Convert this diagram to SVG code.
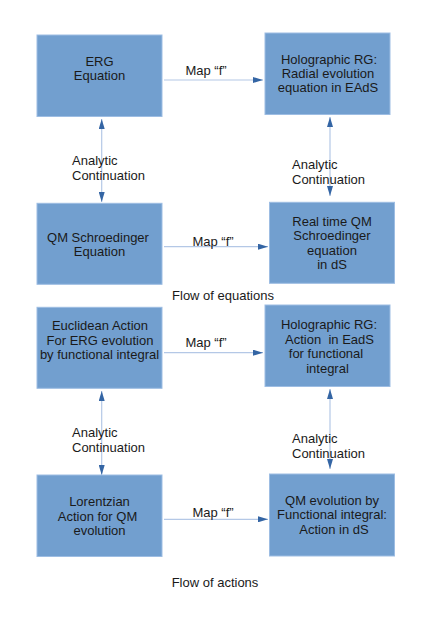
<svg xmlns="http://www.w3.org/2000/svg" width="436" height="617" viewBox="0 0 436 617">
<style>
.box{fill:#729fcf;stroke:#9dbde3;stroke-width:1}
.t{font-family:"Liberation Sans",Arial,sans-serif;font-size:13px;fill:#1a1a1a}
.c{text-anchor:middle}
.ln{stroke:#b4c8e6;stroke-width:1.2;fill:none}
</style>
<defs>
<marker id="ah" viewBox="0 0 10 6" refX="10" refY="3" markerWidth="10" markerHeight="6" markerUnits="userSpaceOnUse" orient="auto-start-reverse">
<path d="M0,0 L10,3 L0,6 Z" fill="#3465a4"/>
</marker>
</defs>
<rect width="436" height="617" fill="#fff"/>
<g id="connectors">
<line class="ln" x1="164" y1="80" x2="263" y2="80" marker-end="url(#ah)"/>
<line class="ln" x1="101.7" y1="119" x2="101.7" y2="202" marker-start="url(#ah)" marker-end="url(#ah)"/>
<line class="ln" x1="330" y1="117" x2="330" y2="196" marker-start="url(#ah)" marker-end="url(#ah)"/>
<line class="ln" x1="164" y1="246.7" x2="268" y2="246.7" marker-end="url(#ah)"/>
<line class="ln" x1="164" y1="352.7" x2="263" y2="352.7" marker-end="url(#ah)"/>
<line class="ln" x1="101.7" y1="391" x2="101.7" y2="475" marker-start="url(#ah)" marker-end="url(#ah)"/>
<line class="ln" x1="330" y1="389" x2="330" y2="469" marker-start="url(#ah)" marker-end="url(#ah)"/>
<line class="ln" x1="164" y1="519.3" x2="268" y2="519.3" marker-end="url(#ah)"/>
<text class="t c" x="206" y="75">Map “f”</text>
<text class="t" x="72" y="165">Analytic</text>
<text class="t" x="72" y="180">Continuation</text>
<text class="t" x="292" y="169">Analytic</text>
<text class="t" x="292" y="184">Continuation</text>
<text class="t c" x="213" y="245.5">Map “f”</text>
<text class="t c" x="206" y="346.5">Map “f”</text>
<text class="t" x="72" y="437">Analytic</text>
<text class="t" x="72" y="452">Continuation</text>
<text class="t" x="292" y="443">Analytic</text>
<text class="t" x="292" y="458">Continuation</text>
<text class="t c" x="213" y="516.5">Map “f”</text>
</g>
<g id="erg">
<rect class="box" x="37" y="35" width="125" height="81.5"/>
<text class="t c" x="99.5" y="65.7">ERG</text>
<text class="t c" x="99.5" y="80">Equation</text>
</g>
<g id="holo-radial">
<rect class="box" x="265" y="33" width="125" height="81.5"/>
<text class="t c" x="329" y="63.5">Holographic RG:</text>
<text class="t c" x="328" y="77.8">Radial evolution</text>
<text class="t c" x="328" y="92.2">equation in EAdS</text>
</g>
<g id="qm-schroedinger">
<rect class="box" x="37" y="203.3" width="125" height="81"/>
<text class="t c" x="98" y="241.7">QM Schroedinger</text>
<text class="t c" x="99.5" y="256">Equation</text>
</g>
<g id="realtime-qm">
<rect class="box" x="269.5" y="202.3" width="125" height="81"/>
<text class="t c" x="332" y="226">Real time QM</text>
<text class="t c" x="332" y="240.3">Schroedinger</text>
<text class="t c" x="332" y="254.6">equation</text>
<text class="t c" x="332" y="269">in dS</text>
</g>
<g id="flow-equations">
<text class="t c" x="223" y="300">Flow of equations</text>
</g>
<g id="euclidean">
<rect class="box" x="37" y="307.3" width="125" height="81"/>
<text class="t c" x="100" y="330">Euclidean Action</text>
<text class="t c" x="100" y="344.7">For ERG evolution</text>
<text class="t c" x="99.5" y="359.3">by functional integral</text>
</g>
<g id="holo-action">
<rect class="box" x="265" y="305" width="125" height="81.5"/>
<text class="t c" x="329" y="329.3">Holographic RG:</text>
<text class="t c" x="329.5" y="343.5" xml:space="preserve">Action  in EadS</text>
<text class="t c" x="326" y="358">for functional</text>
<text class="t c" x="327.5" y="372.5">integral</text>
</g>
<g id="lorentzian">
<rect class="box" x="37" y="475" width="125" height="81.5"/>
<text class="t c" x="99.5" y="506">Lorentzian</text>
<text class="t c" x="97.5" y="520.5">Action for QM</text>
<text class="t c" x="99.5" y="535">evolution</text>
</g>
<g id="qm-functional">
<rect class="box" x="269.5" y="474" width="125" height="82"/>
<text class="t c" x="332" y="505">QM evolution by</text>
<text class="t c" x="332" y="519.3">Functional integral:</text>
<text class="t c" x="334" y="533.5">Action in dS</text>
</g>
<g id="flow-actions">
<text class="t c" x="215" y="587">Flow of actions</text>
</g>
</svg>
